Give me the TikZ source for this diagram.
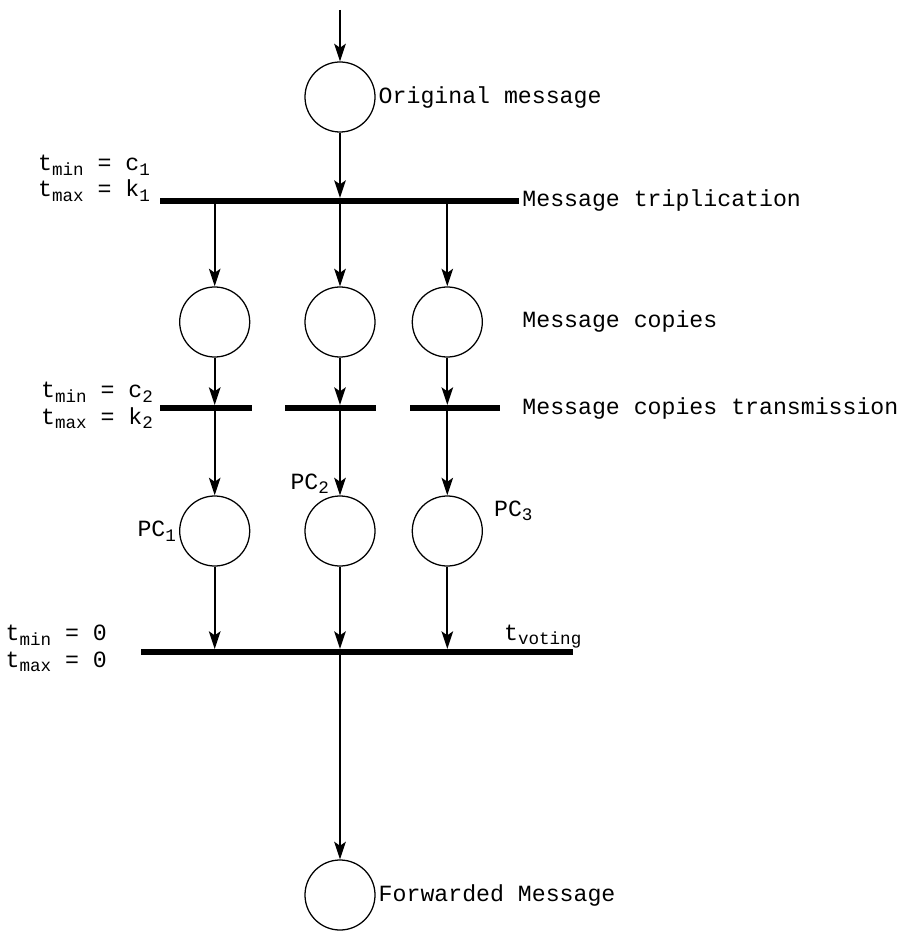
\documentclass[tikz,border=0pt]{standalone}
\usepackage{fontspec}
\setmonofont{Liberation Mono}
\usetikzlibrary{arrows.meta,positioning}

\newcommand{\lowtext}[1]{\raisebox{-3.5pt}{\fontsize{12.5}{12.5}\selectfont #1}}

\begin{document}
\begin{tikzpicture}[x=0.025cm, y=-0.025cm, >={Stealth[length=4.4mm, width=2.9mm, inset=1mm]},
    every node/.style={font=\ttfamily\fontsize{16.5}{19}\selectfont, inner sep=2pt},
    place/.style={circle, draw, line width=0.9pt, minimum size=1.75cm, inner sep=0pt},
    bar/.style={fill, inner sep=0pt, minimum height=0.14cm},
    arc/.style={->, line width=1.2pt}]
    \useasboundingbox (0,0) rectangle (905,931);

    % Places
    \node (orig) [place] at (340,97) {};
    \node (copy2) [place] at (340,322) {};
    \node (copy1) [place, left=1.35cm of copy2] {};
    \node (copy3) [place, right=0.9cm of copy2] {};
    \node (pc2) [place] at (340,531) {};
    \node (pc1) [place, left=1.35cm of pc2] {};
    \node (pc3) [place, right=0.9cm of pc2] {};
    \node (fwd) [place] at (340,895) {};
    \coordinate (in) at (340,10);

    % Transitions
    \node (trip) [bar, minimum width=8.975cm] at (339.5,201) {};
    \node (trans1) [bar, minimum width=2.3cm] at (206,408) {};
    \node (trans2) [bar, minimum width=2.275cm] at (330.5,408) {};
    \node (trans3) [bar, minimum width=2.25cm] at (455,408) {};
    \node (vote) [bar, minimum width=10.8cm] at (357,652) {};

    % Arcs
    \draw[arc] (in) -- (orig);
    \draw[arc] (orig) -- (orig |- trip.north);
    \draw[arc] (trip.south -| copy1) -- (copy1);
    \draw[arc] (trip.south -| copy2) -- (copy2);
    \draw[arc] (trip.south -| copy3) -- (copy3);
    \draw[arc] (copy1) -- (copy1 |- trans1.north);
    \draw[arc] (copy2) -- (copy2 |- trans2.north);
    \draw[arc] (copy3) -- (copy3 |- trans3.north);
    \draw[arc] (trans1.south -| pc1) -- (pc1);
    \draw[arc] (trans2.south -| pc2) -- (pc2);
    \draw[arc] (trans3.south -| pc3) -- (pc3);
    \draw[arc] (pc1) -- (pc1 |- vote.north);
    \draw[arc] (pc2) -- (pc2 |- vote.north);
    \draw[arc] (pc3) -- (pc3 |- vote.north);
    \draw[arc] (vote.south -| fwd) -- (fwd);

    % Labels
    \node [anchor=west] at (orig.east) {Original message};
    \node [anchor=west] at (trip.east) {Message triplication};
    \node [anchor=west] at (trip.east |- copy3) {Message copies};
    \node [anchor=west] at (trip.east |- trans3) {Message copies transmission};
    \node [anchor=west] at (fwd.east) {Forwarded Message};
    \node [anchor=east] at (pc1.west) {PC\lowtext{1}};
    \node [anchor=base east] at (332,489) {PC\lowtext{2}};
    \node [anchor=base west] at (491,516) {PC\lowtext{3}};
    \node [anchor=base west] at (501,640) {t\lowtext{voting}};

    % Firing times
    \node [anchor=base east, align=left] at (153,197) {t\lowtext{min} = c\lowtext{1}\\t\lowtext{max} = k\lowtext{1}};
    \node [anchor=base east, align=left] at (156,424) {t\lowtext{min} = c\lowtext{2}\\t\lowtext{max} = k\lowtext{2}};
    \node [anchor=base east, align=left] at (110,667) {t\lowtext{min} = 0\\t\lowtext{max} = 0};

\end{tikzpicture}
\end{document}
